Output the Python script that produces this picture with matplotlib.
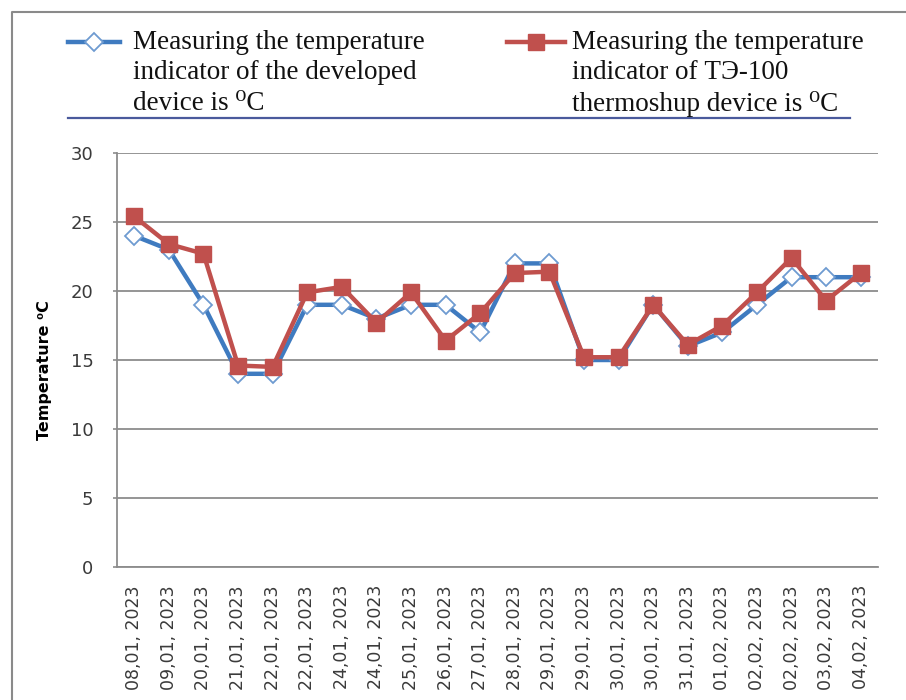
import matplotlib
matplotlib.use("Agg")
import matplotlib.pyplot as plt
from matplotlib.lines import Line2D

# measurement dates (x categories)
dates = ["08,01, 2023", "09,01, 2023", "20,01, 2023", "21,01, 2023",
         "22,01, 2023", "22,01, 2023", "24,01, 2023", "24,01, 2023",
         "25,01, 2023", "26,01, 2023", "27,01, 2023", "28,01, 2023",
         "29,01, 2023", "29,01, 2023", "30,01, 2023", "30,01, 2023",
         "31,01, 2023", "01,02, 2023", "02,02, 2023", "02,02, 2023",
         "03,02, 2023", "04,02, 2023"]

# developed device readings, degC
developed = [24, 23, 19, 14, 14, 19, 19, 18, 19, 19, 17,
             22, 22, 15, 15, 19, 16, 17, 19, 21, 21, 21]

# TE-100 thermoshup readings, degC
te100 = [25.4, 23.4, 22.7, 14.6, 14.5, 19.9, 20.3, 17.7, 19.9, 16.4, 18.4,
         21.3, 21.4, 15.2, 15.2, 19.0, 16.1, 17.5, 19.9, 22.4, 19.3, 21.3]

yticks = [0, 5, 10, 15, 20, 25, 30]

legend_labels = ["Measuring the temperature\nindicator of the developed\ndevice is \u2070C",
                 "Measuring the temperature\nindicator of \u0422\u042d-100\nthermoshup device is \u2070C"]

BLUE = "#3F7BC0"
BLUE_EDGE = "#6E9BD1"
RED = "#C0504D"
GRID = "#8C8C8C"

W, H = 906, 700
fig = plt.figure(figsize=(W / 100, H / 100), dpi=100)


def fx(px):
    return px / W


def fy(py):
    return 1 - py / H


ax = fig.add_axes([fx(117), fy(567), fx(878) - fx(117), fy(153) - fy(567)])

x = list(range(len(dates)))
ax.plot(x, developed, color=BLUE, lw=3.2, marker="D", ms=9,
        mfc="white", mec=BLUE_EDGE, mew=1.3, zorder=3)
ax.plot(x, te100, color=RED, lw=3.2, marker="s", ms=11.5,
        mfc=RED, mec=RED, zorder=4)

ax.set_xlim(-0.5, len(dates) - 0.5)
ax.set_ylim(0, 30)
ax.set_yticks(yticks)
ax.set_xticks(x)
ax.set_xticklabels(dates, rotation=90, fontsize=12.5, color="#3a3a3a")
ax.tick_params(axis="x", length=0, pad=13)
ax.tick_params(axis="y", length=3, width=1.2, color=GRID, pad=14,
               labelsize=13, labelcolor="#3a3a3a")
ax.yaxis.grid(True, color=GRID, lw=1.3)
ax.set_axisbelow(True)
for s in ["top", "right"]:
    ax.spines[s].set_visible(False)
for s in ["left", "bottom"]:
    ax.spines[s].set_color(GRID)
    ax.spines[s].set_linewidth(1.3)

ax.set_ylabel("Temperature \u2070C", fontsize=11.5, fontweight="bold")
ax.yaxis.set_label_coords(-0.085, 0.476)

# legend drawn by hand so the handles sit on the first text line
serif = ["Liberation Serif", "DejaVu Serif"]
hx = [(68, 120, 133), (507, 565, 572)]
styles = [dict(color=BLUE, marker="D", ms=9, mfc="white", mec=BLUE_EDGE, mew=1.3),
          dict(color=RED, marker="s", ms=11.5, mfc=RED, mec=RED, mew=1)]
for (x0, x1, tx), st, lab in zip(hx, styles, legend_labels):
    fig.add_artist(Line2D([fx(x0), fx(x1)], [fy(42), fy(42)], lw=3.2,
                          color=st["color"]))
    fig.add_artist(Line2D([fx((x0 + x1) / 2)], [fy(42)], lw=0,
                          marker=st["marker"], ms=st["ms"], mfc=st["mfc"],
                          mec=st["mec"], mew=st["mew"]))
    fig.text(fx(tx), fy(30), lab, family=serif, fontsize=19.5, va="top",
             ha="left", linespacing=1.28, color="#111111")

# underline below the legend
fig.add_artist(Line2D([fx(68), fx(850)], [fy(118), fy(118)], color="#4A5A9C", lw=1.6))

# outer chart border (top and left only, rest is cropped)
fig.add_artist(Line2D([fx(12), fx(12), fx(W + 5)], [fy(H + 5), fy(12), fy(12)],
                      color="#8A8A8A", lw=1.5))

fig.savefig("out.png", dpi=100)
